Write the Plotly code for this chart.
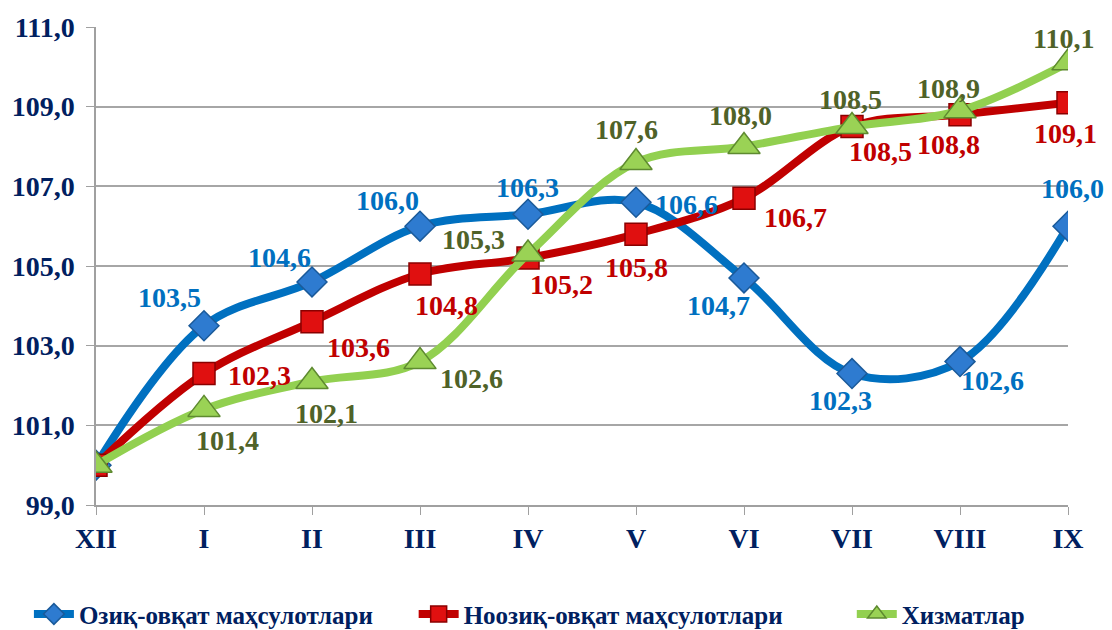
import plotly.graph_objects as go

months = ["XII", "I", "II", "III", "IV", "V", "VI", "VII", "VIII", "IX"]

food     = [100.0, 103.5, 104.6, 106.0, 106.3, 106.6, 104.7, 102.3, 102.6, 106.0]
nonfood  = [100.0, 102.3, 103.6, 104.8, 105.2, 105.8, 106.7, 108.5, 108.8, 109.1]
services = [100.0, 101.4, 102.1, 102.6, 105.3, 107.6, 108.0, 108.5, 108.9, 110.1]

names = ["Озиқ-овқат маҳсулотлари", "Ноозиқ-овқат маҳсулотлари", "Хизматлар"]

# label offsets in pixels (dx right, dy down), first point has no label
food_off     = [None, (-35, -28), (-33, -24), (-33, -26), (-1, -27), (50, 2), (-26, 28), (-12, 27), (32, 19), (4, -38)]
nonfood_off  = [None, (55, 2), (46, 26), (26, 32), (33, 26), (0, 33), (51, 19), (28, 25), (-12, 30), (-3, 31)]
services_off = [None, (23, 31), (14, 32), (51, 17), (-55, -15), (-10, -33), (-4, -31), (-2, -27), (-12, -22), (-5, -24)]

FONT = "Liberation Serif"
NAVY = "#002060"

fig = go.Figure()

styles = [
    (food, "#0070C0", dict(symbol="diamond", size=23, color="#2E7BD0", line=dict(color="#1A5A9A", width=1.5)), "#0070C0", food_off),
    (nonfood, "#C00000", dict(symbol="square", size=22, color="#E01010", line=dict(color="#8A0000", width=1.5)), "#C00000", nonfood_off),
    (services, "#92D050", dict(symbol="triangle-up", size=28, color="#9AD255", line=dict(color="#5E8A30", width=1.5)), "#4F6228", services_off),
]

# one legend per series so the spacing matches the original
legend_ids = ["legend", "legend2", "legend3"]
legend_x = [0.026, 0.372, 0.766]

annotations = []
for (vals, lc, mk, tc, offs), nm, lg in zip(styles, names, legend_ids):
    fig.add_trace(go.Scatter(
        x=months, y=vals, name=nm, mode="lines+markers",
        line=dict(color=lc, width=8, shape="spline", smoothing=1.0),
        marker=mk, legend=lg, showlegend=True,
    ))
    for m, v, o in zip(months, vals, offs):
        if o is None:
            continue
        annotations.append(dict(
            x=m, y=v, text=f"{v:.1f}".replace(".", ","), showarrow=False,
            xshift=o[0], yshift=-o[1],
            font=dict(family=FONT, size=28, color=tc, weight="bold"),
        ))

legend_common = dict(
    orientation="h", xref="container", yref="container",
    xanchor="left", y=0.025, yanchor="middle",
    font=dict(family=FONT, size=25, color=NAVY, weight="bold"),
    itemwidth=40, bgcolor="rgba(0,0,0,0)",
)

fig.update_layout(
    width=1112, height=630,
    margin=dict(l=95, r=44, t=25, b=125),
    paper_bgcolor="white", plot_bgcolor="white",
    separators=", ",
    showlegend=True,
    annotations=annotations,
    legend=dict(x=legend_x[0], **legend_common),
    legend2=dict(x=legend_x[1], **legend_common),
    legend3=dict(x=legend_x[2], **legend_common),
)

fig.update_xaxes(
    type="category", range=[0, 9],
    showline=True, linecolor="#A0A0A0", linewidth=1.5,
    ticks="outside", ticklen=8, tickcolor="#A0A0A0",
    showgrid=False,
    tickfont=dict(family=FONT, size=28, color=NAVY, weight="bold"),
)
fig.update_yaxes(
    range=[99, 111], dtick=2, tick0=99, tickformat=".1f",
    showline=True, linecolor="#A0A0A0", linewidth=1.5,
    ticks="outside", ticklen=8, tickcolor="#A0A0A0",
    ticklabelstandoff=6,
    showgrid=True, gridcolor="#A6A6A6", gridwidth=1.5,
    zeroline=False,
    tickfont=dict(family=FONT, size=28, color=NAVY, weight="bold"),
)

fig.write_html("out.html", config={"displayModeBar": False},
               post_script="document.body.style.margin='0';")
